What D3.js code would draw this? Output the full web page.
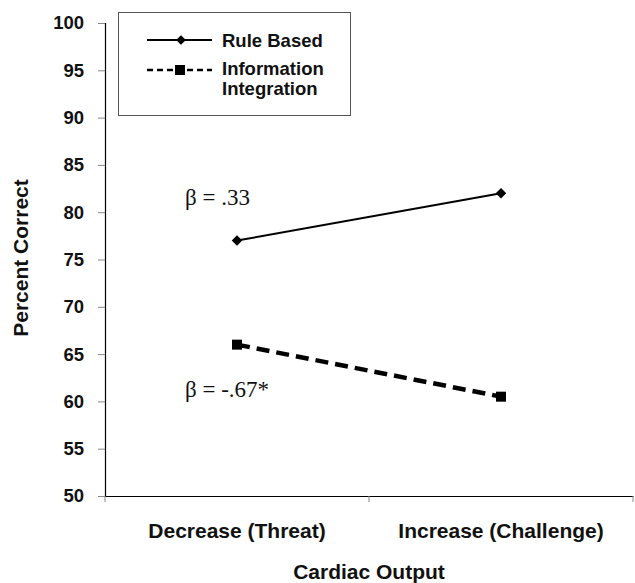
<!DOCTYPE html>
<html>
<head>
  <meta charset="utf-8">
  <title>Percent correct by cardiac output</title>
  <script src="https://cdn.jsdelivr.net/npm/d3@7/dist/d3.min.js"></script>
  <style>
    body { margin: 0; background: #fff; }
    text { font-family: "Liberation Sans", Arial, sans-serif; fill: #111; }
    .axis text { font-weight: bold; fill: #111; }
    .beta { font-family: "Liberation Serif", "Times New Roman", serif; font-size: 23px; word-spacing: 0px; }
    .legend text { font-size: 18.5px; font-weight: bold; }
  </style>
</head>
<body>
  <svg id="chart" width="635" height="583"></svg>

  <script>
    var categories = ['Decrease (Threat)', 'Increase (Challenge)'];
    var ruleBased = [77, 82];
    var infoIntegration = [66, 60.5];
    var yTicks = [50, 55, 60, 65, 70, 75, 80, 85, 90, 95, 100];

    var margin = { top: 23, left: 105, right: 2, bottom: 87 };
    var width = 635, height = 583;

    var svg = d3.select('#chart');

    var x = d3.scaleBand()
      .domain(categories)
      .range([margin.left, width - margin.right]);

    var y = d3.scaleLinear()
      .domain([50, 100])
      .range([height - margin.bottom, margin.top]);

    // y axis
    var yAxis = svg.append('g')
      .attr('class', 'axis')
      .attr('transform', 'translate(' + margin.left + ',0)')
      .call(d3.axisLeft(y).tickValues(yTicks).tickSize(7).tickPadding(14));
    yAxis.select('.domain').attr('stroke', '#000').attr('stroke-width', 1.2);
    yAxis.selectAll('.tick line').attr('stroke', '#888');
    yAxis.selectAll('.tick text').style('font-size', '18.5px');

    // x axis, ticks between the categories
    var xAxis = svg.append('g')
      .attr('class', 'axis')
      .attr('transform', 'translate(0,' + (height - margin.bottom) + ')')
      .call(d3.axisBottom(x).tickSize(0).tickPadding(27.5));
    xAxis.select('.domain').attr('stroke', '#000').attr('stroke-width', 1.2);
    xAxis.selectAll('.tick text').style('font-size', '21px');

    var edges = [x(categories[0])].concat(categories.map(c => x(c) + x.bandwidth()));
    xAxis.selectAll('line.sep')
      .data(edges)
      .enter()
      .append('line')
      .attr('class', 'sep')
      .attr('x1', d => d)
      .attr('x2', d => d)
      .attr('y1', 0)
      .attr('y2', 6)
      .attr('stroke', '#888');

    // axis titles
    svg.append('text')
      .attr('x', (margin.left + width - margin.right) / 2)
      .attr('y', 579)
      .attr('text-anchor', 'middle')
      .style('font-size', '21px')
      .style('font-weight', 'bold')
      .text('Cardiac Output');

    svg.append('text')
      .attr('transform', 'translate(28,' + 258 + ') rotate(-90)')
      .attr('text-anchor', 'middle')
      .style('font-size', '21px')
      .style('font-weight', 'bold')
      .text('Percent Correct');

    var cx = d => x(d) + x.bandwidth() / 2;

    var line = d3.line()
      .x((d, i) => cx(categories[i]))
      .y(d => y(d));

    // rule based series
    svg.append('path')
      .datum(ruleBased)
      .attr('d', line)
      .attr('fill', 'none')
      .attr('stroke', '#000')
      .attr('stroke-width', 2);

    svg.selectAll('path.diamond')
      .data(ruleBased)
      .enter()
      .append('path')
      .attr('class', 'diamond')
      .attr('d', d3.symbol(d3.symbolDiamond2, 70))
      .attr('transform', (d, i) => 'translate(' + cx(categories[i]) + ',' + y(d) + ')')
      .attr('fill', '#000');

    // information integration series
    svg.append('path')
      .datum(infoIntegration)
      .attr('d', line)
      .attr('fill', 'none')
      .attr('stroke', '#000')
      .attr('stroke-width', 4.5)
      .attr('stroke-dasharray', '13,7');

    svg.selectAll('rect.square')
      .data(infoIntegration)
      .enter()
      .append('rect')
      .attr('class', 'square')
      .attr('x', (d, i) => cx(categories[i]) - 5)
      .attr('y', d => y(d) - 5)
      .attr('width', 10)
      .attr('height', 10)
      .attr('fill', '#000');

    // beta annotations
    svg.append('text')
      .attr('class', 'beta')
      .attr('x', 185)
      .attr('y', 205)
      .text('\u03b2 = .33');

    svg.append('text')
      .attr('class', 'beta')
      .attr('x', 185)
      .attr('y', 397)
      .text('\u03b2 = -.67*');

    // legend
    var legend = svg.append('g').attr('class', 'legend');
    legend.append('rect')
      .attr('x', 118.5)
      .attr('y', 12.5)
      .attr('width', 232)
      .attr('height', 103)
      .attr('fill', '#fff')
      .attr('stroke', '#555')
      .attr('stroke-width', 1);

    legend.append('line')
      .attr('x1', 147).attr('x2', 212)
      .attr('y1', 40).attr('y2', 40)
      .attr('stroke', '#000').attr('stroke-width', 2);
    legend.append('path')
      .attr('d', d3.symbol(d3.symbolDiamond2, 60))
      .attr('transform', 'translate(181,40)');

    legend.append('line')
      .attr('x1', 147).attr('x2', 212)
      .attr('y1', 70).attr('y2', 70)
      .attr('stroke', '#000').attr('stroke-width', 2.5)
      .attr('stroke-dasharray', '6,4');
    legend.append('rect')
      .attr('x', 175).attr('y', 65)
      .attr('width', 10).attr('height', 10);

    legend.append('text')
      .attr('x', 222).attr('y', 47)
      .text('Rule Based');
    legend.append('text')
      .attr('x', 222).attr('y', 75)
      .text('Information');
    legend.append('text')
      .attr('x', 222).attr('y', 95)
      .text('Integration');
  </script>
</body>
</html>
